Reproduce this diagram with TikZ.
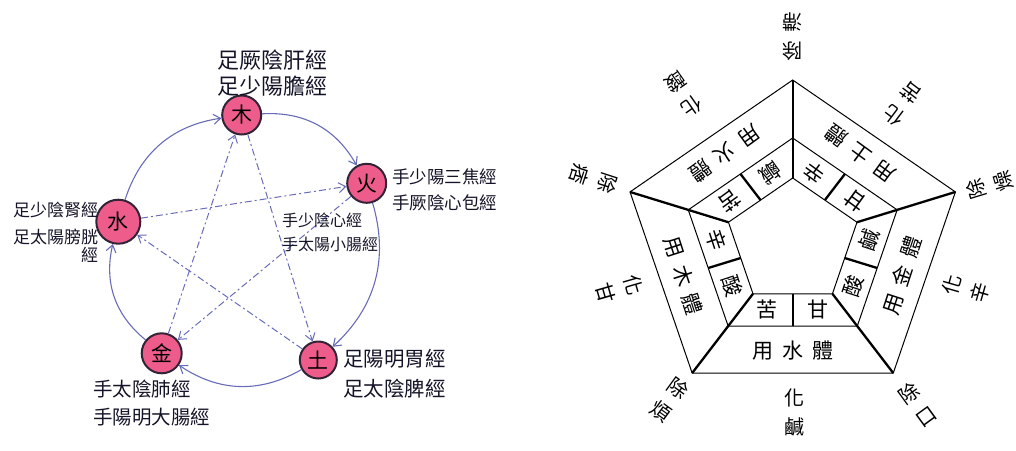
\documentclass[tikz,border=0pt]{standalone}
\usepackage{fontspec}
\setmainfont{Noto Sans CJK TC}
\usetikzlibrary{arrows.meta,calc}
\definecolor{pinkfill}{RGB}{238,92,140}
\definecolor{inkline}{RGB}{104,108,184}
\definecolor{hand}{RGB}{20,20,40}
\definecolor{rim}{RGB}{50,35,55}
\newcommand\rgap{\hspace{9pt}}
\tikzset{
  elem/.style={circle, draw=rim, line width=2pt, fill=pinkfill, inner sep=0pt, text=black, font=\fontsize{21}{21}\selectfont},
  hlab/.style={text=hand, align=left, inner sep=0pt, anchor=west},
  gen/.style={draw=inkline, line width=1.1pt, -{Straight Barb[length=7pt,width=10pt]}},
  ctrl/.style={draw=inkline, line width=1pt, dash pattern=on 7pt off 3pt on 2pt off 3pt, -{Straight Barb[length=7pt,width=10pt]}},
  thinl/.style={line width=1pt},
  thkl/.style={line width=2.3pt},
  rlab/.style={font=\fontsize{21}{29}\selectfont, align=center, inner sep=0pt},
  olab/.style={font=\fontsize{20}{29}\selectfont, align=center, inner sep=0pt},
}
\begin{document}
\begin{tikzpicture}[x=1pt,y=1pt]
\path[use as bounding box] (0,0) rectangle (1016,-450);

% ---------- left: hand drawn five phases ----------
\node[elem, minimum size=39pt] (mu) at (241.7,-115) {木};
\node[elem, minimum size=39pt] (huo) at (366.7,-183.3) {火};
\node[elem, minimum size=37pt] (tu) at (318.3,-360) {土};
\node[elem, minimum size=40pt] (jin) at (161.7,-353.3) {金};
\node[elem, minimum size=44pt] (shui) at (118.3,-221.7) {水};

\draw[gen] (mu) to[bend left=32] (huo);
\draw[gen] (huo) to[bend left=32] (tu);
\draw[gen] (tu) to[bend left=32] (jin);
\draw[gen] (jin) to[bend left=32] (shui);
\draw[gen] (shui) to[bend left=32] (mu);

\draw[ctrl] (mu) -- (tu);
\draw[ctrl] (tu) -- (shui);
\draw[ctrl] (shui) -- (huo);
\draw[ctrl] (huo) -- (jin);
\draw[ctrl] (jin) -- (mu);

\node[hlab, font=\fontsize{22}{26}\selectfont] (lmu) at (217,-73.5) {足厥陰肝經\\足少陽膽經};
\node[hlab, font=\fontsize{17.5}{26}\selectfont] (lhuo) at (392,-190) {手少陽三焦經\\手厥陰心包經};
\node[hlab, font=\fontsize{16}{24}\selectfont] (lmid) at (282,-232.5) {手少陰心經\\手太陽小腸經};
\node[hlab, font=\fontsize{17}{27}\selectfont] (lshui) at (13,-223.5) {足少陰腎經\\足太陽膀胱};
\node[hlab, font=\fontsize{17}{17}\selectfont] (lshui2) at (81,-255) {經};
\node[hlab, font=\fontsize{19.5}{28.5}\selectfont] (ljin) at (93,-403) {手太陰肺經\\手陽明大腸經};
\node[hlab, font=\fontsize{20.5}{30}\selectfont] (ltu) at (343,-373.5) {足陽明胃經\\足太陰脾經};

% ---------- right: pentagon ----------
\begin{scope}[shift={(792.7,-242)}, xscale=1.056]
  \draw[thinl] (90:162) -- (18:162) -- (-54:162) -- (-126:162) -- (162:162) -- cycle;
  \draw[thinl] (90:104) -- (18:104) -- (-54:104) -- (-126:104) -- (162:104) -- cycle;
  \draw[thinl] (90:64) -- (18:64) -- (-54:64) -- (-126:64) -- (162:64) -- cycle;
  \foreach \a in {90,18,-54,-126,162} \draw[thkl] (\a:162) -- (\a:64);
  \foreach \n in {126,54,-18,-90,198} \draw[thkl] (\n:51.8) -- (\n:84.1);

  \node[rlab, rotate=216] (ufire) at (126:109) {用\rgap 火\rgap 體};
  \node[rlab, rotate=144] (uearth) at (54:109) {用\rgap 土\rgap 體};
  \node[rlab, rotate=72] (umetal) at (-18:109) {用\rgap 金\rgap 體};
  \node[rlab, rotate=0] (uwater) at (-90:109) {用\rgap 水\rgap 體};
  \node[rlab, rotate=288] (uwood) at (198:109) {用\rgap 木\rgap 體};

  \node[rlab, rotate=216] (f1) at (-20.55,69.12) {鹹};
  \node[rlab, rotate=216] (f2) at (-59.39,40.90) {苦};
  \node[rlab, rotate=144] (e1) at (59.39,40.90) {甘};
  \node[rlab, rotate=144] (e2) at (20.55,69.12) {辛};
  \node[rlab, rotate=72] (m1) at (57.26,-43.84) {酸};
  \node[rlab, rotate=72] (m2) at (72.09,1.82) {鹹};
  \node[rlab, rotate=0] (w1) at (-24,-68) {苦};
  \node[rlab, rotate=0] (w2) at (24,-68) {甘};
  \node[rlab, rotate=288] (d1) at (-72.09,1.82) {辛};
  \node[rlab, rotate=288] (d2) at (-57.26,-43.84) {酸};

  \node[olab, rotate=180] (c1) at (90:205) {除\\滯};
  \node[olab, rotate=107] (c2) at (17:195) {除\\燥};
  \node[olab, rotate=36] (c3) at (-54:201) {除\\口};
  \node[olab, rotate=-36] (c4) at (-126.5:196) {除\\煩};
  \node[olab, rotate=-108] (c5) at (161.5:199) {除\\痞};

  \node[olab, rotate=215] (s1) at (125:180) {化\\酸};
  \node[olab, rotate=143] (s2) at (53:173) {化\\苦};
  \node[olab, rotate=74] (s3) at (-16:171) {化\\辛};
  \node[olab, rotate=0] (s4) at (-89.5:170) {化\\鹹};
  \node[olab, rotate=286] (s5) at (196:171) {化\\甘};
\end{scope}
\end{tikzpicture}
\end{document}
